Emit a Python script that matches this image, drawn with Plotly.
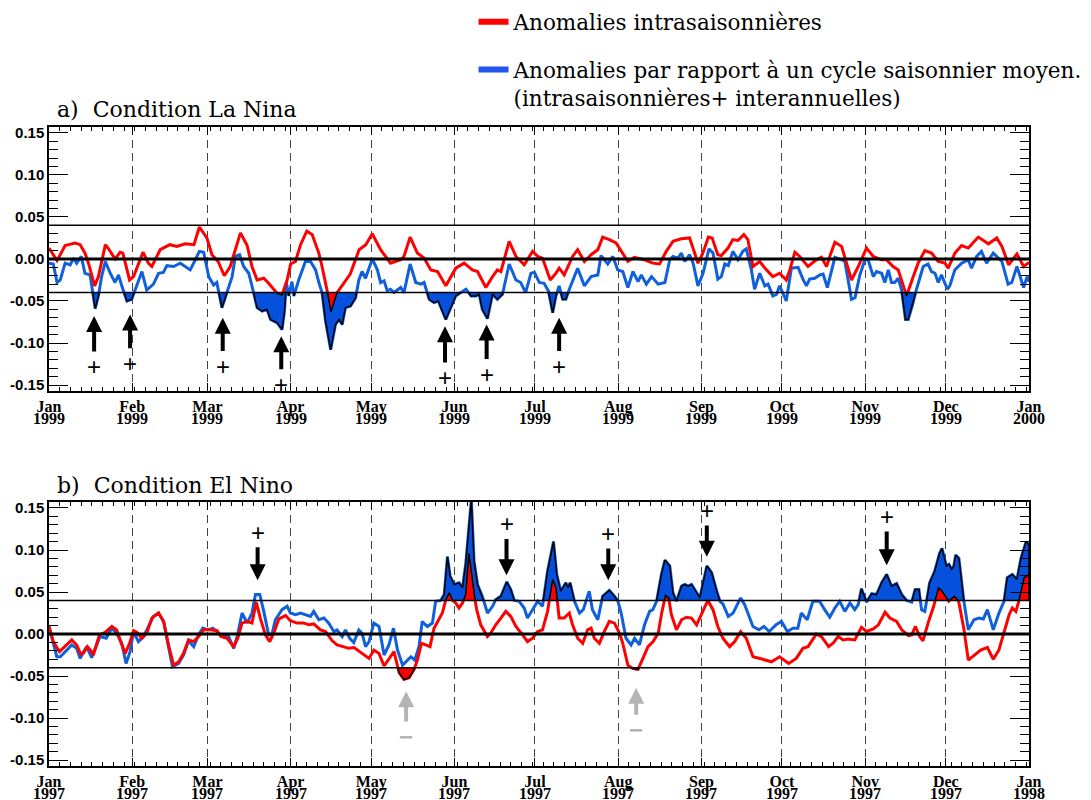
import pandas as pd
import plotly.graph_objects as go

# ---------------- data (day offset from 1 Jan, value) ----------------
BASE_A = pd.Timestamp("1999-01-01")
BASE_B = pd.Timestamp("1997-01-01")
THRESH = 0.04

# Panel a : La Nina 1999 -- intraseasonal anomalies (red)
la_red_days = [0, 3, 6, 9.7, 11.6, 13.4, 14.7, 17, 18.4, 21, 22, 24.6, 26.5, 27.5, 30, 31.5, 35, 37, 38.3,
               41.4, 45, 47.6, 50.7, 54, 56, 58.8, 60.7, 63, 65.3, 67.5, 71.3, 73.8, 75.6, 77.5, 80, 81.8,
               85, 86.8, 88.7, 90, 91.8, 93.7, 96, 98, 100.5, 101.7, 104, 105, 107.3, 110, 112.2, 115.5,
               118, 120.4, 123.5, 127.2, 131, 132.2, 134.5, 137.2, 139.7, 142.2, 144.7, 147.8, 151.5,
               154.6, 157.7, 159.6, 162.7, 165.2, 167, 168.3, 171.4, 173.9, 177, 180.1, 182, 183.8, 186.7,
               188.8, 190, 191.9, 195, 196.9, 199.4, 201.9, 204.4, 206.2, 208.7, 211.2, 215.6, 218, 221.8,
               224.9, 227.4, 229.9, 232.4, 235.5, 238.6, 241.7, 243.4, 245.6, 247, 249.1, 250.4, 252.9,
               254.7, 256.6, 258.8, 260.3, 262.2, 264.7, 267.2, 269.6, 272.1, 274.6, 275.9, 277.8, 279.6,
               282.7, 285.8, 287.7, 289.6, 290.8, 292.7, 295.2, 298.9, 301.4, 304.5, 307, 310.1, 311.9,
               314.4, 316.3, 319.4, 321.9, 323.7, 326.2, 328.7, 331.2, 333.7, 334.9, 337.4, 339.9, 342.4,
               346.1, 349.9, 353, 354.9, 357.4, 360.5, 363, 365]
la_red_vals = [0.013, -0.002, 0.016, 0.019, 0.017, 0.007, -0.005, -0.032, -0.021, 0.017, 0.013, 0.000, 0.008,
               0.007, -0.025, -0.021, 0.008, -0.005, -0.009, 0.011, 0.017, 0.015, 0.018, 0.017, 0.038, 0.025,
               0.005, -0.003, -0.020, -0.009, 0.031, 0.016, -0.009, -0.025, -0.023, -0.029, -0.041, -0.043,
               -0.025, -0.006, -0.003, 0.017, 0.033, 0.029, 0.007, -0.009, -0.044, -0.063, -0.040, -0.028,
               -0.018, 0.011, 0.017, 0.030, 0.011, -0.005, -0.001, 0.003, 0.026, 0.007, 0.001, -0.013,
               -0.015, -0.032, -0.011, -0.005, -0.013, -0.015, -0.034, -0.021, -0.013, -0.015, 0.021,
               0.003, -0.007, 0.009, 0.003, 0.001, -0.025, -0.017, -0.011, -0.019, 0.003, 0.011, -0.003,
               0.005, 0.011, 0.026, 0.023, 0.019, -0.003, 0.002, -0.001, -0.005, -0.006, 0.009, 0.021,
               0.024, 0.025, -0.005, 0.006, 0.026, 0.025, 0.005, 0.004, 0.013, 0.023, 0.022, 0.029, 0.023,
               -0.009, -0.003, -0.013, -0.021, -0.017, -0.025, -0.013, 0.008, 0.003, -0.009, -0.001, 0.002,
               -0.009, 0.003, 0.020, 0.015, -0.025, -0.009, 0.013, 0.003, -0.001, -0.001, -0.009, -0.013,
               -0.044, -0.021, -0.005, 0.010, 0.007, -0.003, -0.005, -0.011, 0.007, 0.016, 0.013, 0.026,
               0.018, 0.025, 0.015, -0.007, 0.006, -0.009, -0.004]

# Panel a : anomalies w.r.t. mean seasonal cycle (blue)
la_blue_days = [0, 1.6, 3, 4.2, 6, 7.9, 9.1, 10.3, 12, 13.4, 15.3, 17.2, 18.4, 19.6, 21, 22.8, 24.6, 25.9, 27.1,
                29, 30.8, 32.7, 34.6, 36.4, 38.9, 40.8, 42.6, 43.9, 46.4, 48.9, 50.7, 52.6, 54.5, 56, 57.6,
                59.5, 61.3, 62.5, 64.4, 66.3, 68.2, 69.4, 71, 72.5, 74.4, 76.2, 77.5, 79.4, 81.2, 82.5, 85,
                86.8, 87.7, 88.4, 89.3, 90.5, 91.2, 93, 95.5, 97.4, 99.3, 100.5, 101.7, 103, 104.9, 106.7,
                108, 109.2, 110.4, 112.3, 114.2, 115.4, 116.6, 117.9, 120.4, 122.3, 123.5, 124.8, 126, 127.2,
                128.5, 131, 132.2, 134.5, 136.6, 138.5, 139.7, 141.6, 143.4, 145, 146.2, 147.8, 149.1, 150.3,
                151.5, 153.4, 155.3, 157.2, 159, 160.2, 161.4, 163.3, 165.2, 167, 168.9, 171.4, 173.9, 175.7,
                177.5, 179.5, 180.8, 182.6, 184.4, 186, 187.6, 188.8, 190, 191.3, 192.5, 193.8, 196.9, 199.4,
                201.9, 204.4, 205.6, 208.1, 210, 211.8, 213.7, 215.6, 217.5, 219.4, 220.6, 222.5, 224.4,
                226.9, 229.4, 231.2, 232.4, 234.3, 235.5, 236.8, 238.6, 239.9, 241.7, 243.6, 245.8, 247.3,
                249.1, 250.4, 251.7, 253, 254.7, 256.6, 258.4, 259.7, 261.6, 262.8, 264.7, 266.6, 267.8,
                269.6, 271, 272.1, 273.4, 274.6, 276.5, 279, 280.8, 282.1, 283.3, 285.2, 287.1, 288.3, 289.9,
                292.7, 295.2, 296.4, 298.9, 300.2, 302, 303.9, 305.1, 307, 308.2, 310.1, 311.3, 312.6, 313.8,
                315, 316.3, 317.5, 319, 320, 321.5, 323.1, 325.6, 327.4, 328.7, 330, 331.2, 332.4, 334.6,
                335.5, 337.4, 339.9, 342.4, 343.6, 345.5, 347.3, 349.2, 351.7, 354.9, 357.2, 358.6, 360.5,
                363, 364.3, 365]
la_blue_vals = [-0.005, -0.006, -0.028, -0.025, -0.005, -0.007, 0.001, -0.005, 0.003, -0.017, -0.019, -0.059,
                -0.044, -0.021, -0.003, -0.017, -0.028, -0.019, -0.032, -0.050, -0.048, -0.032, -0.015,
                -0.037, -0.030, -0.017, -0.016, -0.008, -0.009, -0.005, -0.009, -0.013, -0.001, 0.009, 0.008,
                -0.021, -0.031, -0.028, -0.058, -0.040, -0.021, 0.003, 0.005, -0.009, -0.017, -0.040, -0.058,
                -0.062, -0.060, -0.072, -0.076, -0.084, -0.062, -0.028, -0.044, -0.027, -0.044, -0.025,
                -0.003, -0.003, -0.013, -0.028, -0.040, -0.074, -0.108, -0.078, -0.072, -0.078, -0.058,
                -0.056, -0.046, -0.025, -0.015, -0.023, 0.000, -0.013, -0.028, -0.026, -0.038, -0.036,
                -0.040, -0.034, -0.040, -0.006, -0.028, -0.030, -0.028, -0.048, -0.052, -0.050, -0.060,
                -0.072, -0.062, -0.052, -0.044, -0.040, -0.036, -0.044, -0.044, -0.042, -0.060, -0.071,
                -0.042, -0.048, -0.042, -0.006, -0.025, -0.028, -0.040, -0.017, -0.016, -0.028, -0.029,
                -0.038, -0.064, -0.044, -0.032, -0.048, -0.048, -0.036, -0.011, -0.032, -0.021, -0.019,
                0.004, -0.006, 0.003, -0.013, -0.015, -0.034, -0.015, -0.027, -0.019, -0.030, -0.021,
                -0.030, -0.028, -0.001, 0.003, 0.001, 0.007, -0.003, 0.005, -0.005, -0.032, -0.017, 0.012,
                0.007, -0.024, -0.021, -0.006, -0.008, 0.009, -0.001, 0.009, 0.012, -0.013, -0.036, -0.017,
                -0.032, -0.030, -0.044, -0.042, -0.032, -0.042, -0.050, -0.011, -0.010, -0.024, -0.032,
                -0.024, -0.023, -0.019, -0.018, -0.034, 0.002, -0.001, -0.003, -0.048, -0.046, -0.019,
                -0.001, -0.001, -0.021, -0.015, -0.017, -0.028, -0.013, -0.028, -0.028, -0.023, -0.036,
                -0.072, -0.072, -0.056, -0.036, -0.009, -0.006, -0.015, -0.017, -0.028, -0.019, -0.036,
                -0.032, -0.013, -0.005, -0.001, -0.011, 0.003, 0.009, -0.005, 0.007, -0.003, -0.030, -0.028,
                -0.009, -0.034, -0.021, -0.027]

# Panel b : El Nino 1997 -- intraseasonal anomalies (red)
en_red_days = [0, 1.6, 3.9, 6, 8.5, 10.3, 11.8, 13, 14.3, 15.9, 16.5, 18.8, 20.9, 23.4, 25.2, 26.7, 28.4, 30,
               31.5, 32.8, 34.6, 36.4, 38.3, 40.8, 42.7, 44.5, 46.4, 48.3, 50.1, 52, 53.9, 55.7, 57.6, 60.1,
               62.6, 64, 66.3, 68.8, 70.3, 71.9, 73.8, 75.6, 77.2, 78.7, 80.6, 82.2, 83.7, 85.6, 88.1, 89.9,
               92.4, 94.9, 96.8, 98.6, 101.1, 103, 105.5, 107.3, 109.8, 111.7, 113.6, 116, 117.9, 119.2, 121,
               122.9, 124.8, 126.6, 128.5, 130.4, 132.2, 134.1, 136, 137.2, 138.7, 140.3, 141.9, 143.4,
               145.3, 146.5, 147.8, 149.1, 150.3, 151.5, 152.7, 154, 155.2, 156.4, 158.1, 159.3, 160.8,
               163.3, 164.5, 166.4, 168.3, 170.1, 172, 173.9, 176.4, 178.2, 180.1, 182, 183.8, 185.7, 187.6,
               188.8, 190, 191.9, 193.8, 195, 196.9, 198.8, 200.6, 201.9, 203.1, 205, 206.8, 208.7, 210.6,
               212.5, 213.7, 215.6, 217.5, 219.4, 221.2, 223.1, 225, 226.9, 228.2, 229.6, 230.8, 231.8,
               233.7, 235.6, 237.4, 239.3, 241.2, 243, 245.4, 247.3, 249.1, 251, 253.5, 255.4, 257.6, 259.7,
               262.2, 264.7, 266.6, 269.1, 272.1, 275.5, 278.3, 280.8, 282.7, 285.8, 287.7, 290.4, 292,
               293.9, 295.8, 297.6, 300.1, 302.6, 304.5, 307, 308.9, 311.4, 313.2, 315.7, 317.6, 320.1,
               321.3, 322.7, 324.3, 325.5, 327.6, 329.5, 331.3, 332.6, 335.1, 337.2, 338.8, 340.7, 342.4,
               344.5, 347, 349.5, 351.7, 353.8, 355.7, 357.6, 358.8, 360.1, 361.3, 363.2, 365]
en_red_vals = [0.009, -0.009, -0.021, -0.015, -0.007, -0.013, -0.024, -0.022, -0.015, -0.021, -0.025, -0.001,
               0.002, 0.009, 0.005, -0.009, -0.023, -0.011, 0.004, 0.002, -0.005, 0.001, 0.019, 0.025, 0.015,
               -0.013, -0.037, -0.033, -0.023, -0.007, -0.009, -0.003, 0.005, 0.005, 0.004, -0.003, -0.005,
               -0.015, -0.005, 0.013, 0.015, 0.013, 0.038, 0.019, -0.001, -0.009, 0.001, 0.018, 0.022, 0.016,
               0.013, 0.013, 0.011, 0.012, 0.005, 0.003, -0.008, -0.013, -0.015, -0.017, -0.016, -0.022,
               -0.026, -0.029, -0.019, -0.023, -0.038, -0.029, -0.021, -0.046, -0.054, -0.052, -0.042,
               -0.031, -0.011, -0.013, -0.015, 0.007, 0.017, 0.025, 0.041, 0.049, 0.040, 0.037, 0.031,
               0.037, 0.047, 0.096, 0.051, 0.029, 0.011, -0.003, 0.001, 0.011, 0.019, 0.027, 0.021, 0.009,
               -0.001, -0.009, -0.005, 0.003, 0.005, 0.027, 0.065, 0.055, 0.019, 0.019, 0.025, 0.011, -0.005,
               -0.011, 0.005, 0.007, -0.005, -0.011, 0.003, 0.015, 0.013, 0.001, -0.011, -0.037, -0.041,
               -0.042, -0.029, -0.015, -0.009, 0.001, 0.025, 0.046, 0.043, 0.023, 0.005, 0.017, 0.020,
               0.019, 0.011, 0.023, 0.040, 0.029, 0.009, -0.005, -0.015, -0.009, 0.003, -0.005, -0.027,
               -0.029, -0.031, -0.033, -0.027, -0.035, -0.029, -0.017, -0.015, 0.000, -0.003, -0.015, -0.011,
               -0.003, -0.007, -0.006, -0.007, 0.008, 0.003, 0.006, 0.011, 0.026, 0.019, 0.015, 0.005,
               -0.002, -0.001, 0.009, -0.003, -0.008, 0.015, 0.033, 0.055, 0.051, 0.039, 0.045, 0.039, 0.007,
               -0.031, -0.025, -0.019, -0.016, -0.030, -0.019, 0.003, 0.023, 0.031, 0.027, 0.040, 0.067,
               0.071]

# Panel b : anomalies w.r.t. mean seasonal cycle (blue)
en_blue_days = [0, 1.6, 2.9, 4.2, 6, 8.5, 10.3, 11.6, 12.9, 14, 15.9, 17.2, 19, 21.3, 23.4, 25.2, 27.1, 28.7,
                30.2, 31.5, 33.3, 35.2, 37, 38.9, 40.8, 42.7, 44.5, 46, 48.3, 50.1, 52, 53.9, 55.7, 57.3, 59.2,
                61, 62.6, 64.4, 66.9, 68.8, 70.3, 71.9, 73.8, 75.6, 76.9, 78.5, 80, 81.8, 83, 84.3, 86.8, 88.7,
                89.9, 91.8, 93.7, 95.5, 97.4, 98.6, 100.5, 102.4, 104.2, 106.1, 107.3, 109.2, 110.4, 112,
                113.5, 115.4, 116.6, 117.9, 119.2, 121, 122.9, 124.8, 126.6, 128.3, 129.8, 131.7, 133.5,
                134.8, 136.2, 137.8, 139, 140.9, 142.8, 144, 145.9, 147.2, 148.4, 149.4, 150.9, 152.7, 154,
                155.2, 157.3, 158.3, 159.6, 161.4, 163.3, 165.2, 166.4, 168.3, 170.5, 172, 173.3, 175.1, 177,
                178.2, 180.1, 182, 183.8, 185.7, 187.9, 189.1, 190.6, 192.5, 193.3, 194.1, 195.7, 197.6, 199,
                201.2, 202.4, 204.4, 206.2, 208.7, 210.6, 211.8, 213.1, 214.9, 216.8, 218.1, 219.9, 221.8,
                223.7, 224.9, 226.3, 228.1, 229.4, 231.2, 232.4, 233.7, 235.6, 236.8, 238, 239.3, 240.5,
                242.4, 245, 246.8, 248.7, 249.9, 251, 253, 254.8, 257.6, 259.1, 262.2, 264.4, 266.3, 268.2,
                270.8, 272.8, 275, 277.1, 278.9, 280.2, 282.4, 284.5, 287, 288.9, 290.8, 292.7, 294.5, 296.4,
                298.3, 300.1, 301.4, 302.6, 304.5, 306.4, 308.2, 310.1, 312, 313.8, 315.7, 317.6, 319.4,
                321.3, 322.6, 324, 325, 326.2, 328, 329.9, 331.7, 332.6, 334.2, 335.2, 336.2, 337, 337.7,
                338.9, 340.7, 342.4, 344.5, 346.4, 348, 349.5, 351.7, 353.8, 355.7, 356.9, 358.8, 360.5, 362,
                363.9, 365]
en_blue_vals = [0.009, -0.013, -0.027, -0.027, -0.021, -0.013, -0.017, -0.029, -0.021, -0.015, -0.028, -0.017,
                -0.003, -0.005, 0.007, 0.001, -0.011, -0.035, -0.021, 0.003, -0.009, -0.003, 0.009, 0.021,
                0.025, 0.015, -0.015, -0.039, -0.035, -0.025, -0.008, -0.015, -0.001, 0.007, 0.005, 0.007,
                0.003, -0.003, -0.003, -0.017, 0.000, 0.025, 0.013, 0.025, 0.047, 0.047, 0.027, -0.001, -0.001,
                0.017, 0.029, 0.033, 0.025, 0.023, 0.025, 0.023, 0.021, 0.027, 0.017, 0.019, 0.013, 0.003,
                0.005, -0.003, 0.005, -0.005, -0.010, 0.005, 0.001, -0.015, -0.009, 0.013, 0.009, -0.025,
                -0.013, 0.007, -0.019, -0.037, -0.031, -0.027, -0.031, -0.015, 0.015, 0.009, 0.013, 0.039,
                0.040, 0.047, 0.092, 0.069, 0.059, 0.061, 0.055, 0.083, 0.160, 0.087, 0.059, 0.045, 0.025,
                0.033, 0.041, 0.045, 0.062, 0.053, 0.040, 0.039, 0.031, 0.019, 0.029, 0.039, 0.033, 0.075,
                0.110, 0.071, 0.051, 0.061, 0.055, 0.061, 0.039, 0.025, 0.029, 0.051, 0.029, 0.017, 0.045,
                0.052, 0.045, 0.040, 0.025, -0.005, -0.013, -0.005, -0.013, 0.011, 0.027, 0.029, 0.039, 0.071,
                0.088, 0.081, 0.049, 0.039, 0.057, 0.059, 0.057, 0.059, 0.053, 0.043, 0.081, 0.073, 0.051,
                0.039, 0.036, 0.021, 0.025, 0.043, 0.035, 0.009, 0.005, 0.009, 0.003, 0.011, 0.015, 0.003,
                0.007, 0.007, 0.025, 0.017, 0.039, 0.039, 0.029, 0.020, 0.031, 0.039, 0.027, 0.037, 0.029,
                0.035, 0.054, 0.038, 0.048, 0.047, 0.061, 0.071, 0.057, 0.060, 0.047, 0.040, 0.038, 0.053,
                0.053, 0.029, 0.027, 0.061, 0.075, 0.096, 0.102, 0.081, 0.083, 0.077, 0.081, 0.094, 0.090,
                0.040, 0.005, 0.017, 0.019, 0.018, 0.029, 0.005, 0.025, 0.039, 0.067, 0.071, 0.065, 0.090,
                0.110, 0.106]

# periods (day offsets) in which the blue excursions are highlighted
la_blue_windows = [(0, 255), (305, 366)]
en_blue_windows = [(140, 199), (204, 252), (290, 366)]

# arrows: day, arrow tip value, sign position value
la_arrow_days = [16.8, 30.2, 64.7, 86.5, 147.5, 163.0, 190.0]
la_arrow_tips = [-0.068, -0.066, -0.070, -0.092, -0.080, -0.078, -0.070]
la_arrow_signs = [-0.128, -0.124, -0.1275, -0.149, -0.141, -0.137, -0.1275]
en_plus_days = [77.7, 170.4, 208.3, 245.0, 312.0]
en_plus_tips = [0.064, 0.070, 0.064, 0.092, 0.082]
en_plus_signs = [0.121, 0.131, 0.1195, 0.147, 0.140]
en_minus_days = [133.0, 218.7]
en_minus_tips = [-0.068, -0.064]
en_minus_signs = [-0.122, -0.114]

y_tick_vals = [-0.15, -0.10, -0.05, 0.0, 0.05, 0.10, 0.15]
y_tick_text = ["-0.15", "-0.10", "-0.05", "0.00", "0.05", "0.10", "0.15"]

RED = "#ff0000"
BLUE_LINE = "#1060dc"
BLUE_FILL = "#0550dc"
GREY = "#b4b4b4"
SERIF = "DejaVu Serif"


def to_dates(base, days):
    return [None if d is None else (base + pd.Timedelta(days=float(d))).strftime("%Y-%m-%d %H:%M:%S")
            for d in days]


def excursions(days, vals, thr, side, windows=None):
    s = 1 if side == "above" else -1

    def beyond(v):
        return s * (v - thr) > 0

    runs, cur = [], None
    for i, (d, v) in enumerate(zip(days, vals)):
        b = beyond(v)
        if i == 0:
            if b:
                cur = [(d, thr), (d, v)]
            continue
        d0, v0 = days[i - 1], vals[i - 1]
        b0 = beyond(v0)
        if b0 != b:
            dc = d0 + (thr - v0) / (v - v0) * (d - d0)
            if b0:
                cur.append((dc, thr))
                runs.append(cur)
                cur = None
            else:
                cur = [(dc, thr)]
        if b:
            cur.append((d, v))
    if cur:
        cur.append((days[-1], thr))
        runs.append(cur)
    if windows is not None:
        runs = [r for r in runs
                if any(w0 <= (r[0][0] + r[-1][0]) / 2 <= w1 for w0, w1 in windows)]
    xs, ys = [], []
    for r in runs:
        xs += [p[0] for p in r] + [None]
        ys += [p[1] for p in r] + [None]
    return xs, ys


fig = go.Figure()

# legend entries
fig.add_trace(go.Scatter(x=[None], y=[None], mode="lines", line=dict(color=RED, width=6),
                         name="Anomalies intrasaisonnières", legendgroup="g1"))
fig.add_trace(go.Scatter(x=[None], y=[None], mode="lines", line=dict(color="#1f55f0", width=6),
                         name="Anomalies par rapport à un cycle saisonnier moyen.<br>(intrasaisonnières+ interannuelles)",
                         legendgroup="g2"))


def add_panel(base, xa, ya, red_d, red_v, blue_d, blue_v, blue_side, blue_windows, red_sides):
    fig.add_trace(go.Scatter(x=to_dates(base, blue_d), y=blue_v, mode="lines", xaxis=xa, yaxis=ya,
                             line=dict(color=BLUE_LINE, width=3), showlegend=False, hoverinfo="skip"))
    fig.add_trace(go.Scatter(x=to_dates(base, red_d), y=red_v, mode="lines", xaxis=xa, yaxis=ya,
                             line=dict(color=RED, width=3), showlegend=False, hoverinfo="skip"))
    thr = THRESH if blue_side == "above" else -THRESH
    bx, by = excursions(blue_d, blue_v, thr, blue_side, blue_windows)
    fig.add_trace(go.Scatter(x=to_dates(base, bx), y=by, mode="lines", fill="toself", fillcolor=BLUE_FILL,
                             xaxis=xa, yaxis=ya, line=dict(color="black", width=1.5),
                             showlegend=False, hoverinfo="skip"))
    for side in red_sides:
        t = THRESH if side == "above" else -THRESH
        rx, ry = excursions(red_d, red_v, t, side)
        fig.add_trace(go.Scatter(x=to_dates(base, rx), y=ry, mode="lines", fill="toself", fillcolor=RED,
                                 xaxis=xa, yaxis=ya, line=dict(color="black", width=1.5),
                                 showlegend=False, hoverinfo="skip"))


add_panel(BASE_A, "x", "y", la_red_days, la_red_vals, la_blue_days, la_blue_vals, "below",
          la_blue_windows, ["below"])
add_panel(BASE_B, "x2", "y2", en_red_days, en_red_vals, en_blue_days, en_blue_vals, "above",
          en_blue_windows, ["above", "below"])

# reference lines
for yref, xref in (("y", "x domain"), ("y2", "x2 domain")):
    fig.add_shape(type="line", xref=xref, yref=yref, x0=0, x1=1, y0=0, y1=0,
                  line=dict(color="black", width=3), layer="above")
    for t in (THRESH, -THRESH):
        fig.add_shape(type="line", xref=xref, yref=yref, x0=0, x1=1, y0=t, y1=t,
                      line=dict(color="black", width=1.5), layer="above")

# arrows
SIGN_FONT = dict(family="Liberation Sans", size=24, color="black")
for d, tip, sg in zip(la_arrow_days, la_arrow_tips, la_arrow_signs):
    xd = to_dates(BASE_A, [d])[0]
    fig.add_annotation(x=xd, y=tip, ax=xd, ay=sg, xref="x", yref="y", axref="x", ayref="y",
                       text="+", font=SIGN_FONT,
                       showarrow=True, arrowhead=2, arrowsize=0.8, arrowwidth=4, arrowcolor="black",
                       standoff=0)
for d, tip, sg in zip(en_plus_days, en_plus_tips, en_plus_signs):
    xd = to_dates(BASE_B, [d])[0]
    fig.add_annotation(x=xd, y=tip, ax=xd, ay=sg, xref="x2", yref="y2", axref="x2", ayref="y2",
                       text="+", font=SIGN_FONT,
                       showarrow=True, arrowhead=2, arrowsize=0.8, arrowwidth=4, arrowcolor="black",
                       standoff=0)
for d, tip, sg in zip(en_minus_days, en_minus_tips, en_minus_signs):
    xd = to_dates(BASE_B, [d])[0]
    fig.add_annotation(x=xd, y=tip, ax=xd, ay=sg, xref="x2", yref="y2", axref="x2", ayref="y2",
                       text="<b>−</b>", font=dict(family="Liberation Sans", size=24, color=GREY),
                       showarrow=True, arrowhead=2, arrowsize=0.8, arrowwidth=4, arrowcolor=GREY,
                       standoff=0)

# panel titles
fig.add_annotation(xref="paper", yref="paper", x=0.006, y=1.028, xanchor="left", yanchor="middle",
                   text="a)\u00a0 Condition La Nina", showarrow=False,
                   font=dict(family=SERIF, size=22, color="black"))
fig.add_annotation(xref="paper", yref="paper", x=0.006, y=0.4397, xanchor="left", yanchor="middle",
                   text="b)\u00a0 Condition El Nino", showarrow=False,
                   font=dict(family=SERIF, size=22, color="black"))

TICK_FONT = dict(family="Liberation Serif", size=16, color="black", weight="bold")


def xaxis_cfg(base, anchor):
    months = pd.date_range(base, periods=13, freq="MS")
    return dict(type="date", anchor=anchor, automargin=False,
                range=[base.strftime("%Y-%m-%d"), months[-1].strftime("%Y-%m-%d")],
                tickmode="array", tickvals=[m.strftime("%Y-%m-%d") for m in months],
                ticktext=[f"{m:%b}" for m in months],
                ticks="inside", ticklen=8, tickwidth=1, tickcolor="black",
                showline=True, linewidth=1.5, linecolor="black", mirror="allticks",
                showgrid=True, griddash="8px,5px", gridcolor="#444444", gridwidth=1,
                zeroline=False, tickfont=TICK_FONT,
                minor=dict(ticks="inside", ticklen=4, tickcolor="black", dtick=4 * 86400000,
                           tick0=base.strftime("%Y-%m-%d"), showgrid=False))


def yaxis_cfg(domain, anchor):
    return dict(domain=domain, anchor=anchor, range=[-0.157, 0.157], automargin=False,
                tickmode="array", tickvals=y_tick_vals, ticktext=y_tick_text,
                ticks="inside", ticklen=19, tickwidth=1, tickcolor="black",
                showline=True, linewidth=1.5, linecolor="black", mirror="allticks",
                showgrid=False, zeroline=False,
                tickfont=dict(family="Liberation Sans", size=15, color="black", weight="bold"),
                minor=dict(ticks="inside", ticklen=9, tickcolor="black", dtick=0.01, tick0=0,
                           showgrid=False))


# year line under the month tick labels
for base, xr, yr in ((BASE_A, "x", "y domain"), (BASE_B, "x2", "y2 domain")):
    for m in pd.date_range(base, periods=13, freq="MS"):
        fig.add_annotation(x=m.strftime("%Y-%m-%d"), y=-0.106, xref=xr, yref=yr,
                           text=f"{m:%Y}", showarrow=False, xanchor="center", yanchor="middle",
                           font=TICK_FONT)

fig.update_layout(
    width=1091, height=800,
    margin=dict(l=49, r=62, t=127, b=34, autoexpand=False),
    paper_bgcolor="white", plot_bgcolor="white",
    xaxis=xaxis_cfg(BASE_A, "y"),
    xaxis2=xaxis_cfg(BASE_B, "y2"),
    yaxis=yaxis_cfg([0.587, 1.0], "x"),
    yaxis2=yaxis_cfg([0.0, 0.413], "x2"),
    showlegend=True,
    legend=dict(x=0.4332, y=1.1969, xanchor="left", yanchor="top", valign="top",
                font=dict(family=SERIF, size=21.5, color="black"),
                tracegroupgap=17, bgcolor="rgba(0,0,0,0)", itemwidth=30),
)

fig.write_html("out.html", config={"displayModeBar": False},
               post_script="document.body.style.margin='0';document.body.style.padding='0';")
